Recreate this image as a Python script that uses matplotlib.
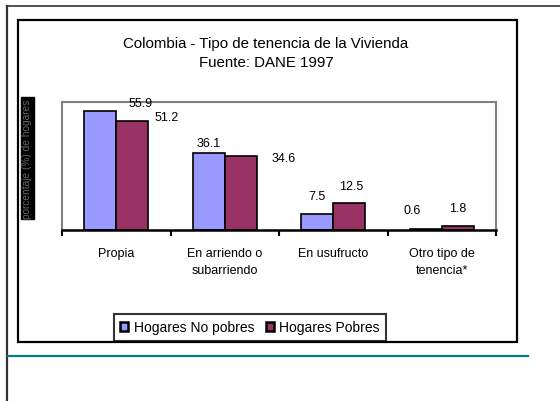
import matplotlib

matplotlib.use("Agg")
import matplotlib.pyplot as plt
import numpy as np
from matplotlib.lines import Line2D
from matplotlib.patches import Rectangle

plt.rcParams["font.family"] = ["Liberation Sans", "DejaVu Sans"]

categories = ["Propia", "En arriendo o\nsubarriendo", "En usufructo", "Otro tipo de\ntenencia*"]
no_pobres = [55.9, 36.1, 7.5, 0.6]
pobres = [51.2, 34.6, 12.5, 1.8]
series_names = ["Hogares No pobres", "Hogares Pobres"]

_W, _H = 560, 402
_NOPOB = "#9999FF"
_POB = "#993366"
_TEAL = "#008080"


def fx(px):
    return px / _W


def fy(py):
    return 1 - py / _H


fig = plt.figure(figsize=(5.6, 4.02), dpi=100, facecolor="white")

# slide frame lines
fig.add_artist(Line2D([fx(7), fx(7)], [fy(7), 0], color="#333333", lw=1.6))
fig.add_artist(Line2D([fx(7), 1], [fy(7), fy(7)], color="#333333", lw=1.2))
fig.add_artist(Line2D([fx(8), fx(528)], [fy(357), fy(357)], color=_TEAL, lw=1.6))
# chart border
fig.add_artist(Rectangle((fx(18), fy(343)), fx(517) - fx(18), fy(21) - fy(343),
                         transform=fig.transFigure, fill=False, edgecolor="black", lw=1.6))

fig.text(fx(266), fy(44), "Colombia - Tipo de tenencia de la Vivienda", ha="center", va="center", fontsize=10.8)
fig.text(fx(266), fy(63), "Fuente: DANE 1997", ha="center", va="center", fontsize=10.8)

# rotated y-label in black box
fig.text(fx(27.5), fy(159), "porcentaje (%) de hogares", rotation=90, ha="center", va="center",
         fontsize=7.3, color="#666666",
         bbox=dict(boxstyle="square,pad=0.15", facecolor="black", edgecolor="black"))

ax = fig.add_axes([fx(62), fy(231), fx(496) - fx(62), fy(103) - fy(231)])
x = np.arange(len(categories))
w = 0.295
ax.bar(x - w / 2, no_pobres, w, color=_NOPOB, edgecolor="black", lw=1.2, label=series_names[0])
ax.bar(x + w / 2, pobres, w, color=_POB, edgecolor="black", lw=1.2, label=series_names[1])
ax.set_xlim(-0.5, len(categories) - 0.5)
ax.set_ylim(0, 60)
ax.set_yticks([])
ax.set_xticks(x)
ax.set_xticklabels(categories, fontsize=9, linespacing=1.6)
ax.tick_params(axis="x", which="major", length=0, pad=12)
ax.set_xticks(np.arange(-0.5, len(categories)), minor=True)
ax.tick_params(axis="x", which="minor", length=4, width=1.5, direction="out", color="black")
for side in ("left", "top", "right"):
    ax.spines[side].set_color("#808080")
    ax.spines[side].set_linewidth(1.5)
ax.spines["bottom"].set_color("black")
ax.spines["bottom"].set_linewidth(1.8)

# Excel-style data labels (pixel offsets from bar tops)
off_np = [(40, 8), (0, 10), (0, 18), (-14, 19)]
off_p = [(34, 4), (43, -2), (2, 17), (0, 18)]
for i in range(len(categories)):
    ax.annotate(f"{no_pobres[i]:.1f}", (x[i] - w / 2, no_pobres[i]), xytext=off_np[i],
                textcoords="offset pixels", ha="center", va="center", fontsize=9)
    ax.annotate(f"{pobres[i]:.1f}", (x[i] + w / 2, pobres[i]), xytext=off_p[i],
                textcoords="offset pixels", ha="center", va="center", fontsize=9)

leg = fig.legend(loc="center", bbox_to_anchor=(fx(250), fy(328.5)), ncol=2, fontsize=10,
                 frameon=True, fancybox=False, edgecolor="black", handlelength=0.6, handleheight=0.6,
                 handletextpad=0.4, columnspacing=0.8, borderpad=0.45)
leg.get_frame().set_linewidth(1.5)
for h in leg.legend_handles:
    h.set_linewidth(1.8)

fig.savefig("out.png", dpi=100, facecolor="white")
